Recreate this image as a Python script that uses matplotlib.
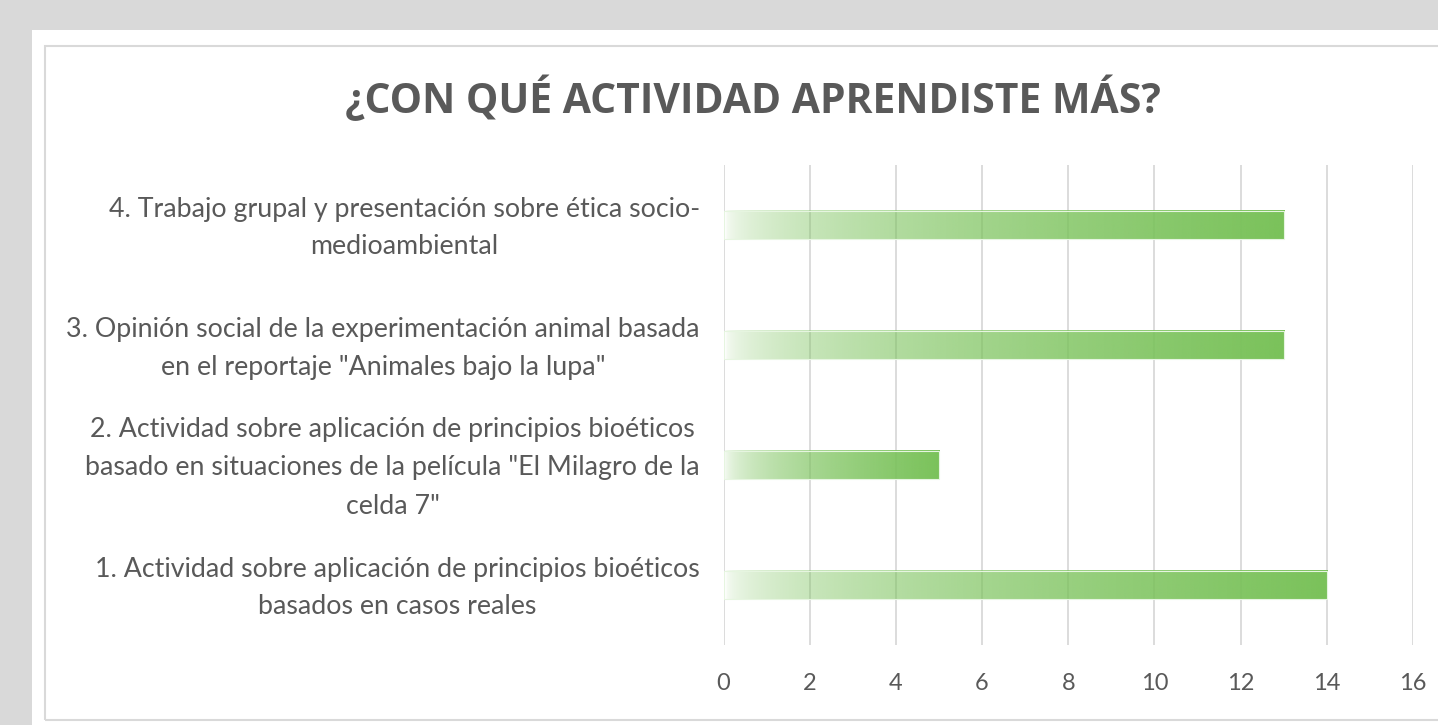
import matplotlib
matplotlib.use("Agg")
import matplotlib.pyplot as plt
import matplotlib.transforms as mtransforms
import numpy as np
from matplotlib.patches import Rectangle

# data
categorias = [
    "1. Actividad sobre aplicación de principios bioéticos\nbasados en casos reales",
    "2. Actividad sobre aplicación de principios bioéticos\nbasado en situaciones de la película \"El Milagro de la\ncelda 7\"",
    "3. Opinión social de la experimentación animal basada\nen el reportaje \"Animales bajo la lupa\"",
    "4. Trabajo grupal y presentación sobre ética socio-\nmedioambiental",
]
valores = [14, 5, 13, 13]
xticks = [0, 2, 4, 6, 8, 10, 12, 14, 16]
titulo = "¿CON QUÉ ACTIVIDAD APRENDISTE MÁS?"

W, H = 1438, 725
fig = plt.figure(figsize=(W / 100, H / 100), dpi=100)
fig.patch.set_facecolor("#d9d9d9")

# white card + thin border
fig.patches.append(Rectangle((32 / W, 0), 1, 1 - 30 / H, transform=fig.transFigure,
                             facecolor="white", edgecolor="none", zorder=-2))
fig.patches.append(Rectangle((45 / W, 5 / H), 1, 1 - 46 / H - 5 / H, transform=fig.transFigure,
                             facecolor="none", edgecolor="#d9d9d9", lw=1.5, zorder=-1))

ax = fig.add_axes([723.5 / W, 1 - 645 / H, (1413 - 723.5) / W, (645 - 165) / H])
ax.set_zorder(2)
ax.set_facecolor("none")

# gradient fill: transparent green on the left -> solid green on the right
green = np.array([122, 194, 90]) / 255
grad = np.zeros((1, 256, 4))
grad[..., :3] = green
grad[..., 3] = np.linspace(0.0, 1.0, 256) ** 0.45

bh = 0.235
for i, v in enumerate(valores):
    ax.imshow(grad, extent=(0, v, i - bh / 2, i + bh / 2), aspect="auto",
              interpolation="bilinear", zorder=3)
    ax.add_patch(Rectangle((0, i - bh / 2), v, bh, facecolor="none",
                           edgecolor=(0.90, 0.96, 0.88), lw=0.8, zorder=4))
ax.set_aspect("auto")
ax.set_xlim(0, 16)
ax.set_ylim(-0.5, len(valores) - 0.5)

ax.set_xticks(xticks)
ax.set_xticklabels([str(t) for t in xticks])
ax.set_yticks(range(len(categorias)))
ax.set_yticklabels(categorias, multialignment="center", linespacing=1.65)
ax.grid(axis="x", color="#d9d9d9", lw=1.3, zorder=1)
ax.set_axisbelow(True)
for s in ax.spines.values():
    s.set_visible(False)
ax.tick_params(axis="both", length=0, colors="#595959")
ax.tick_params(axis="x", pad=20, labelsize=17)
ax.tick_params(axis="y", pad=17, labelsize=19.3)
shift = mtransforms.ScaledTranslation(0, 6 / 100, fig.dpi_scale_trans)
for lab in ax.get_yticklabels():
    lab.set_transform(lab.get_transform() + shift)
for lab in ax.get_xticklabels() + ax.get_yticklabels():
    lab.set_family("Lato")

fig.text(753 / W, 1 - 100 / H, titulo, ha="center", va="center",
         fontsize=29.4, fontweight="bold", color="#595959", family="Open Sans")

fig.savefig("out.png", dpi=100, facecolor=fig.get_facecolor())
